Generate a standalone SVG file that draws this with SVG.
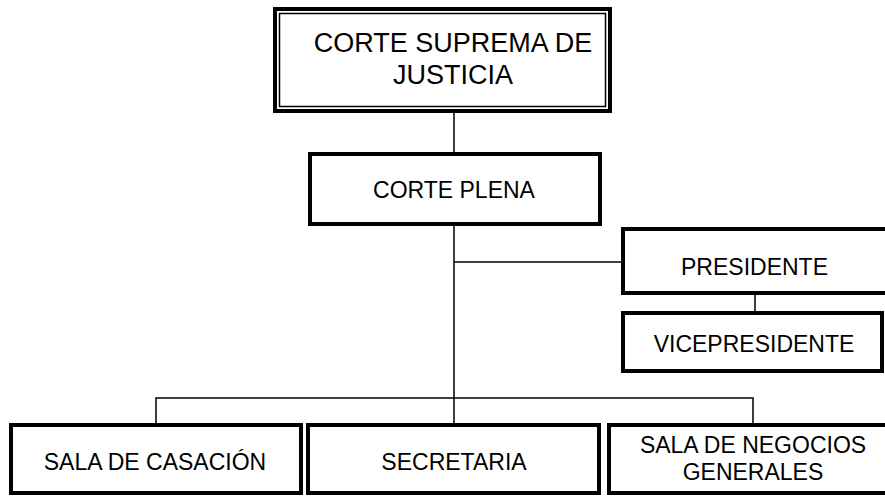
<svg xmlns="http://www.w3.org/2000/svg" width="885" height="497" viewBox="0 0 885 497">
<style>
.box{fill:#fff;stroke:#000;stroke-width:4}
.thin{fill:none;stroke:#000;stroke-width:1.5}
.lbl{font-family:"Liberation Sans",Arial,sans-serif;font-size:23px;fill:#000;text-anchor:middle}
.big{font-size:27px}
</style>
<rect width="885" height="497" fill="#fff"/>
<g id="connectors" class="thin">
<line x1="454" y1="113" x2="454" y2="152"/>
<line x1="454" y1="226" x2="454" y2="398"/>
<line x1="454" y1="262" x2="621" y2="262"/>
<line x1="755" y1="295" x2="755" y2="311"/>
<polyline points="156,423 156,398 753,398 753,423"/>
<line x1="454" y1="398" x2="454" y2="423"/>
</g>
<g id="corte-suprema">
<rect class="box" x="275" y="9" width="335" height="102"/>
<rect class="thin" x="279.5" y="13.5" width="326" height="93"/>
<text class="lbl big" x="453" y="52">CORTE SUPREMA DE</text>
<text class="lbl big" x="453" y="84">JUSTICIA</text>
</g>
<g id="corte-plena">
<rect class="box" x="310" y="154" width="290" height="70"/>
<text class="lbl" x="454" y="198">CORTE PLENA</text>
</g>
<g id="presidente">
<rect class="box" x="623" y="229" width="270" height="64"/>
<text class="lbl" x="754.5" y="275">PRESIDENTE</text>
</g>
<g id="vicepresidente">
<rect class="box" x="623" y="313" width="259" height="58"/>
<text class="lbl" x="754" y="352">VICEPRESIDENTE</text>
</g>
<g id="sala-casacion">
<rect class="box" x="11" y="425" width="290" height="68"/>
<text class="lbl" x="155" y="470">SALA DE CASACIÓN</text>
</g>
<g id="secretaria">
<rect class="box" x="308" y="425" width="291" height="68"/>
<text class="lbl" x="454" y="470">SECRETARIA</text>
</g>
<g id="sala-negocios">
<rect class="box" x="609" y="425" width="280" height="68"/>
<text class="lbl" x="753" y="453">SALA DE NEGOCIOS</text>
<text class="lbl" x="753" y="480">GENERALES</text>
</g>
</svg>
